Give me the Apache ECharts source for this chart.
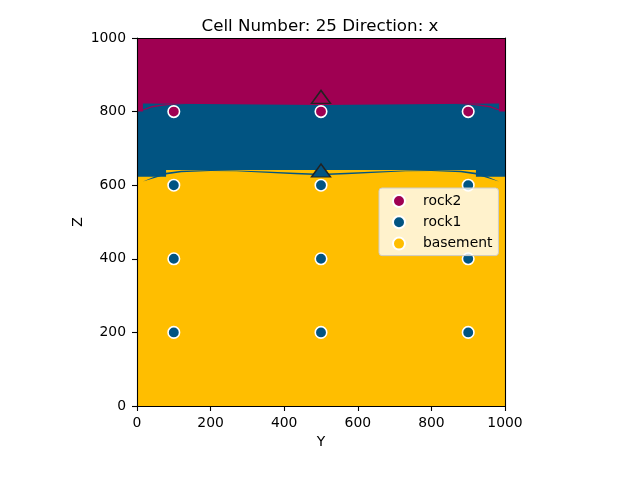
<!DOCTYPE html>
<html><head><meta charset="utf-8">
<script src="https://cdn.jsdelivr.net/npm/echarts@6/dist/echarts.min.js"></script>
<style>html,body{margin:0;padding:0;background:#fff}#c{width:640px;height:480px}</style></head>
<body><div id="c"></div>
<script>
const rock2Color='#9f0052', rock1Color='#015482', basementColor='#ffbe00';
const rock2Points=[[100,800],[500,800],[900,800]];
const rock1Points=[[100,600],[500,600],[900,600],[100,400],[500,400],[900,400],[100,200],[500,200],[900,200]];
const surfacePoints=[[500,840,rock2Color],[500,640,rock1Color]];
const rock2Area=[[0,0],[1000,0],[1000,1000],[0,1000]];
const rock1Area=[[0,0],[0,800],[16,800],[16,822],[250,820],[500,818],[750,820],[984,822],[984,800],[1000,800],[1000,0]];
const wedgeLeft=[[16,803],[40,811],[70,816],[100,819],[150,821],[200,821],[150,822],[100,821],[70,819],[40,815],[16,806]];
const wedgeRight=[[984,803],[960,811],[930,816],[900,819],[850,821],[800,821],[850,822],[900,821],[930,819],[960,815],[984,806]];
const basementArea=[[0,0],[0,623],[79,623],[79,641],[921,641],[921,623],[1000,623],[1000,0]];
const streakLeft=[[16,610],[50,620],[79,629],[120,635],[200,638.5],[270,638],[350,634],[430,630],[500,627],[500,631],[430,634],[350,637],[270,640],[200,641.5],[120,639],[79,634],[50,624]];
const streakRight=[[984,610],[950,620],[921,629],[880,635],[800,638.5],[730,638],[650,634],[570,630],[500,627],[500,631],[570,634],[650,637],[730,640],[800,641.5],[880,639],[921,634],[950,624]];
const shapes=[[rock2Area,rock2Color],[rock1Area,rock1Color],[basementArea,basementColor],[wedgeLeft,rock2Color],[wedgeRight,rock2Color],[streakLeft,rock1Color],[streakRight,rock1Color]];
const ticks={min:0,max:1000,interval:200};
const font='"DejaVu Sans"';
const chart=echarts.init(document.getElementById('c'),null,{renderer:'canvas'});
const axisBase=Object.assign({type:'value',z:10,splitLine:{show:false}},ticks);
const label=(m)=>({color:'#000',fontFamily:font,fontSize:13.9,margin:m,showMinLabel:true,showMaxLabel:true,formatter:v=>String(v)});
const shown={axisLine:{show:true,onZero:false,lineStyle:{color:'#000',width:1.1}},
  axisTick:{show:true,length:5,lineStyle:{color:'#000',width:1.1}},
  nameLocation:'middle',nameMoveOverlap:false,nameTextStyle:{color:'#000',fontFamily:font,fontSize:13.9}};
const hidden={axisLine:{show:true,onZero:false,lineStyle:{color:'#000',width:1.1}},axisTick:{show:false},axisLabel:{show:false}};
const scatterStyle=c=>({color:c,borderColor:'#fff',borderWidth:1.6,opacity:1});
chart.setOption({
  animation:false,
  title:{text:'Cell Number: 25 Direction: x',left:315,top:13,textAlign:'center',
    textStyle:{color:'#000',fontFamily:font,fontSize:16.7,fontWeight:'normal'}},
  grid:{left:137,top:38,width:368,height:368},
  xAxis:[Object.assign({},axisBase,shown,{position:'bottom',name:'Y',nameGap:29,axisLabel:label(10)}),
         Object.assign({},axisBase,hidden,{position:'top'})],
  yAxis:[Object.assign({},axisBase,shown,{position:'left',name:'Z',nameGap:52,axisLabel:label(11)}),
         Object.assign({},axisBase,hidden,{position:'right'})],
  legend:{show:true,orient:'vertical',left:379,top:188,padding:[6,6,5,13],itemWidth:12,itemHeight:12,itemGap:7.3,
    data:['rock2','rock1','basement'],icon:'circle',
    backgroundColor:'rgba(255,255,255,0.8)',borderColor:'#ccc',borderWidth:1,borderRadius:3,z:20,
    textStyle:{color:'#000',fontFamily:font,fontSize:13.9,padding:[0,0,0,13]}},
  series:[
    {type:'custom',name:'surfaces',silent:true,z:1,clip:true,coordinateSystem:'cartesian2d',
     data:shapes.map((s,i)=>[i]),
     renderItem:(params,api)=>{const s=shapes[api.value(0)];
       return {type:'polygon',shape:{points:s[0].map(p=>api.coord(p))},style:{fill:s[1]}};}},
    {type:'scatter',name:'rock2',data:rock2Points,symbol:'circle',symbolSize:11.5,itemStyle:scatterStyle(rock2Color),z:3},
    {type:'scatter',name:'rock1',data:rock1Points,symbol:'circle',symbolSize:11.5,itemStyle:scatterStyle(rock1Color),z:3},
    {type:'scatter',name:'basement',data:[],symbol:'circle',symbolSize:11.5,itemStyle:scatterStyle(basementColor),z:3},
    {type:'scatter',name:'orientations',data:surfacePoints.map(p=>({value:[p[0],p[1]],itemStyle:{color:p[2],borderColor:'#222',borderWidth:1.4,opacity:1}})),
     symbol:'triangle',symbolSize:[19,13],z:4,silent:true}
  ]
});
</script></body></html>
